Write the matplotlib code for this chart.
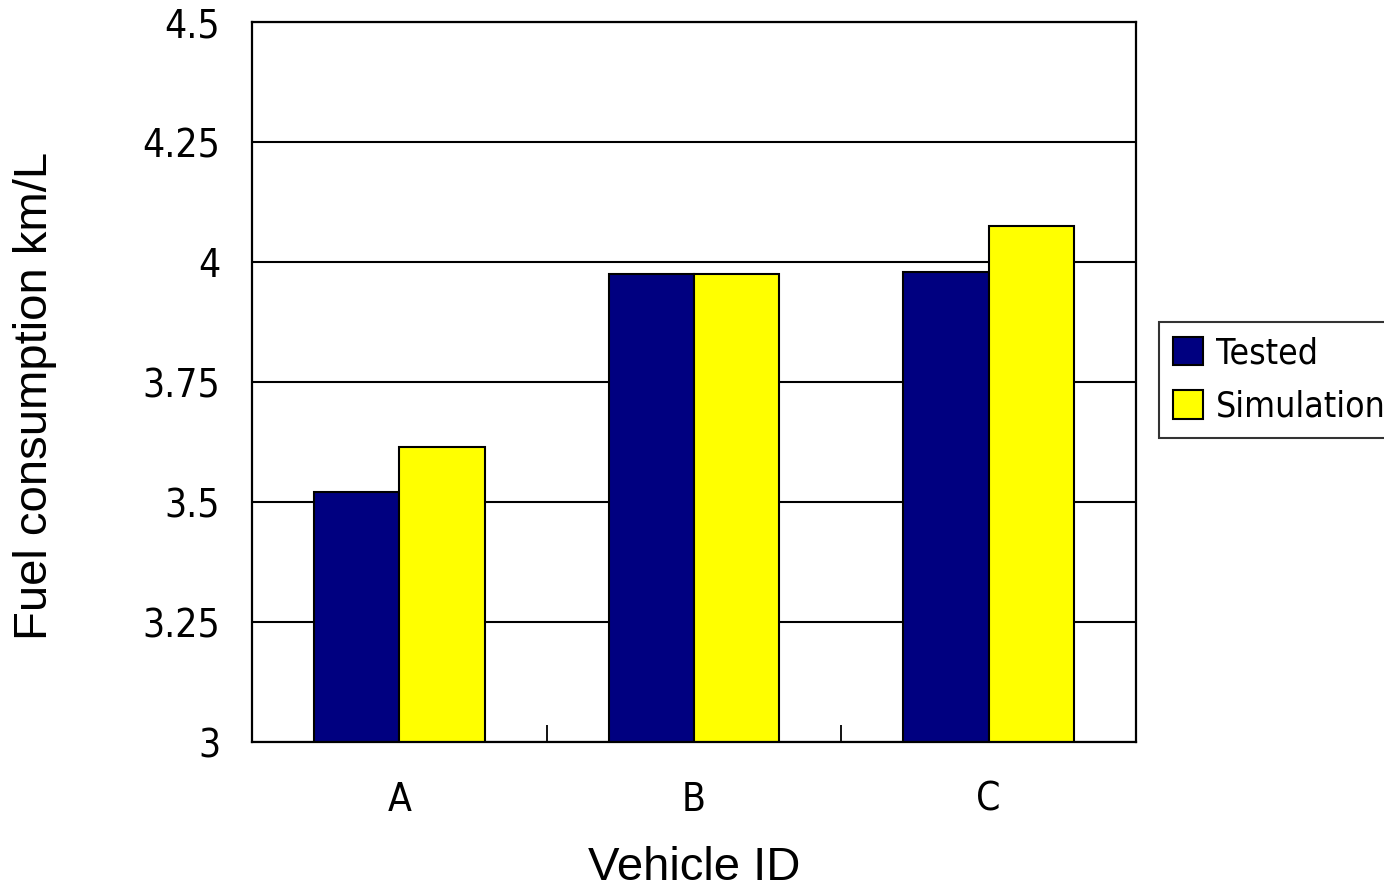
import numpy as np
import matplotlib
matplotlib.use("Agg")
import matplotlib.pyplot as plt

# fuel consumption per vehicle, km/L
vehicles = ["A", "B", "C"]
tested = [3.52, 3.975, 3.98]
simulation = [3.615, 3.975, 4.075]
y_ticks = [3, 3.25, 3.5, 3.75, 4, 4.25, 4.5]
y_tick_labels = ["3", "3.25", "3.5", "3.75", "4", "4.25", "4.5"]

narrow = {"family": "DejaVu Sans", "stretch": "condensed"}

fig = plt.figure(figsize=(13.84, 8.9), dpi=100)
ax = fig.add_axes([252 / 1384, 148 / 890, 884 / 1384, 720 / 890])

x = np.arange(len(vehicles))
w = 0.29
ax.bar(x - w / 2, tested, w, color="#000080", edgecolor="black",
       linewidth=1.5, label="Tested", zorder=3)
ax.bar(x + w / 2, simulation, w, color="#FFFF00", edgecolor="black",
       linewidth=1.5, label="Simulation", zorder=3)

ax.set_ylim(3, 4.5)
ax.set_xlim(-0.5, 2.5)
ax.set_yticks(y_ticks)
ax.set_yticklabels(y_tick_labels, fontsize=28, **narrow)
ax.set_xticks(x)
ax.set_xticklabels(vehicles, fontsize=28, **narrow)
ax.set_xticks([0.5, 1.5], minor=True)
ax.tick_params(axis="x", which="major", length=0, pad=28)
ax.tick_params(axis="x", which="minor", direction="in", length=12, width=1.3)
ax.tick_params(axis="y", length=0, pad=23)
ax.grid(axis="y", color="black", linewidth=1.5, zorder=0)
ax.set_axisbelow(True)
for s in ax.spines.values():
    s.set_linewidth(1.6)
    s.set_zorder(4)

ax.set_xlabel("Vehicle ID", fontsize=34, fontfamily="Liberation Sans")
ax.xaxis.set_label_coords(0.5, -0.145)
ax.set_ylabel("Fuel consumption km/L", fontsize=34, fontfamily="Liberation Sans")
ax.yaxis.set_label_coords(-0.221, 0.48)

leg = fig.legend(loc="upper left", bbox_to_anchor=(1159 / 1384, 1 - 322 / 890),
                 prop={"size": 25.5, **narrow}, frameon=True, fancybox=False,
                 edgecolor="black", handlelength=0.85, handleheight=0.85,
                 handletextpad=0.35, borderaxespad=0, borderpad=0.4, labelspacing=0.55)
leg.get_frame().set_linewidth(1.5)

fig.savefig("out.png", dpi=100)
